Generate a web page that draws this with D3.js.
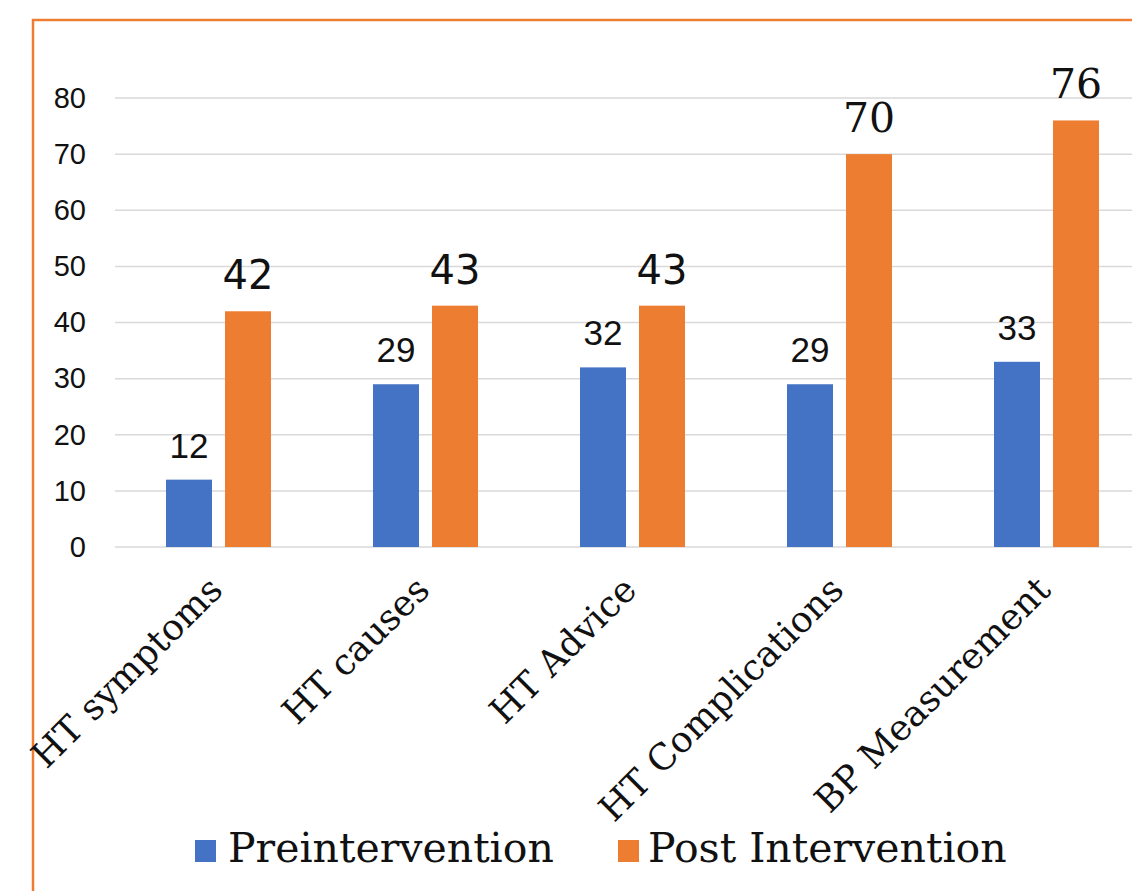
<!DOCTYPE html>
<html>
<head>
<meta charset="utf-8">
<script src="https://cdn.jsdelivr.net/npm/d3@7"></script>
<style>
  html, body { margin: 0; padding: 0; background: #fff; }
  svg { display: block; }
</style>
</head>
<body>
<svg id="chart" width="1132" height="891"></svg>
<script>
// Knowledge scores before and after the intervention
const categories = ["HT symptoms", "HT causes", "HT Advice", "HT Complications", "BP Measurement"];
const preValues = [12, 29, 32, 29, 33];
const postValues = [42, 43, 43, 70, 76];
const seriesNames = ["Preintervention", "Post Intervention"];
const yTicks = [0, 10, 20, 30, 40, 50, 60, 70, 80];

const colors = ["#4472C4", "#ED7D31"];
const serif = "'DejaVu Serif', 'Liberation Serif', serif";
const sans = "'Liberation Sans', 'Open Sans', sans-serif";

const svg = d3.select("#chart");

// Orange frame around the chart area
svg.append("path")
  .attr("d", "M33,891 L33,20 L1132,20")
  .attr("fill", "none")
  .attr("stroke", "#ED7D31")
  .attr("stroke-width", 2.5);

const x = d3.scaleBand().domain(categories).range([115, 1150]).paddingInner(0).paddingOuter(0);
const y = d3.scaleLinear().domain([0, 80]).range([547, 98]);

const barW = 46, barGap = 13;
const groupW = barW * 2 + barGap;

// Gridlines
svg.append("g")
  .selectAll("line")
  .data(yTicks)
  .join("line")
  .attr("x1", 115).attr("x2", 1132)
  .attr("y1", d => y(d)).attr("y2", d => y(d))
  .attr("stroke", "#d9d9d9")
  .attr("stroke-width", 1.5);

// Y axis labels
const yAxis = d3.axisLeft(y).tickValues(yTicks).tickSize(0).tickPadding(0);
const gy = svg.append("g").attr("transform", "translate(86,0)").call(yAxis);
gy.select(".domain").remove();
gy.selectAll("text")
  .attr("font-family", sans)
  .attr("font-size", 29)
  .attr("fill", "#111");

const series = [preValues, postValues];

series.forEach((vals, s) => {
  const gx = c => x(c) + x.bandwidth() / 2 - groupW / 2 + s * (barW + barGap);
  const g = svg.append("g");
  g.selectAll("rect")
    .data(categories)
    .join("rect")
    .attr("x", c => gx(c))
    .attr("y", (c, i) => y(vals[i]))
    .attr("width", barW)
    .attr("height", (c, i) => y(0) - y(vals[i]))
    .attr("fill", colors[s]);

  g.selectAll("text")
    .data(categories)
    .join("text")
    .attr("x", c => gx(c) + barW / 2)
    .attr("y", (c, i) => y(vals[i]) - 22)
    .attr("text-anchor", "middle")
    .attr("font-family", (c, i) => s === 0 ? sans : (i >= 3 ? serif : "'DejaVu Sans', sans-serif"))
    .attr("font-size", (c, i) => s === 0 ? 35 : (i >= 3 ? 41 : 40))
    .attr("fill", "#111")
    .text((c, i) => vals[i]);
});

// Rotated category labels
svg.append("g")
  .selectAll("text")
  .data(categories)
  .join("text")
  .attr("transform", c => `translate(${x(c) + x.bandwidth() / 2 + 6},${592}) rotate(-45)`)
  .attr("text-anchor", "end")
  .attr("font-family", serif)
  .attr("font-size", 36)
  .attr("fill", "#111")
  .text(c => c);

// Legend
const legendItems = [
  { name: seriesNames[0], color: colors[0], sx: 195, tx: 228 },
  { name: seriesNames[1], color: colors[1], sx: 618, tx: 648 }
];
const lg = svg.append("g");
legendItems.forEach(d => {
  lg.append("rect")
    .attr("x", d.sx).attr("y", 840)
    .attr("width", 21).attr("height", 22)
    .attr("fill", d.color);
  lg.append("text")
    .attr("x", d.tx).attr("y", 862)
    .attr("font-family", serif)
    .attr("font-size", 41)
    .attr("fill", "#111")
    .text(d.name);
});
</script>
</body>
</html>
